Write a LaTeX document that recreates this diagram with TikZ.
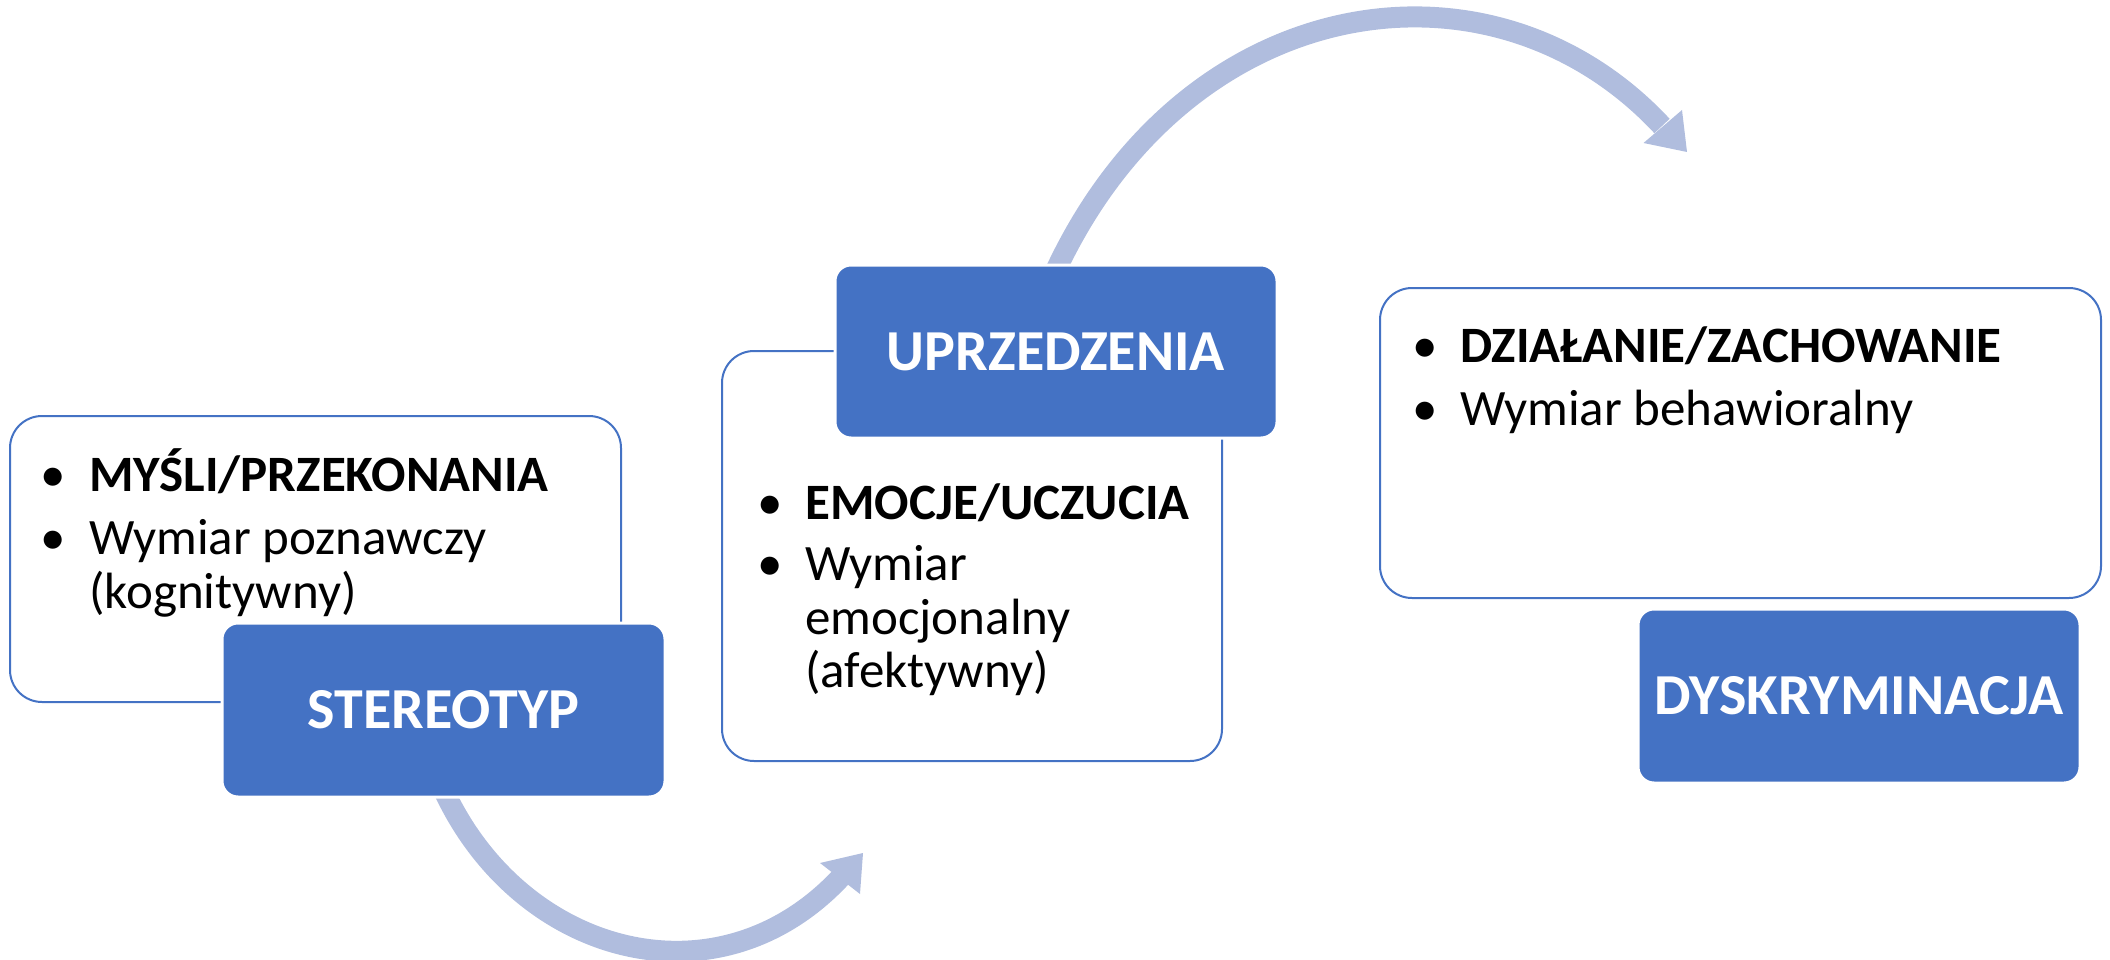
\documentclass[tikz,border=0pt]{standalone}
\usepackage{fontspec}
\setmainfont{Carlito}
\definecolor{accent}{HTML}{4472C4}
\definecolor{arrowc}{RGB}{176,189,222}
\begin{document}
\begin{tikzpicture}[x=1pt,y=-1pt,
  whitebox/.style={draw=accent, line width=2pt, fill=white, rounded corners=32pt, inner sep=0pt},
  bluebox/.style={draw=white, line width=3pt, fill=accent, rounded corners=16pt, text=white,
    font=\fontsize{58}{60}\selectfont\bfseries, inner sep=0pt},
  itemtext/.style={anchor=base west, inner sep=0pt, font=\fontsize{51}{55}\selectfont},
  bul/.style={anchor=base, inner sep=0pt, font=\fontsize{51}{55}\selectfont},
  flow/.style={draw=arrowc, line width=21pt},
  head/.style={fill=arrowc}
]
\useasboundingbox (0,0) rectangle (2110,960);

% arrows (behind boxes)
\coordinate (a1s) at (445,793);
\coordinate (a1e) at (841,877);
\coordinate (a1t) at (863,853);
\coordinate (a1l) at (820,863);
\coordinate (a1r) at (860,894);
\draw[flow] (a1s) .. controls (523,957) and (719,1008) .. (a1e);
\fill[head] (a1l) -- (a1t) -- (a1r) -- cycle;

\coordinate (a2s) at (1056,270);
\coordinate (a2e) at (1662,126);
\coordinate (a2t) at (1687,152);
\coordinate (a2l) at (1682,110);
\coordinate (a2r) at (1643.5,143);
\draw[flow] (a2s) .. controls (1188,-11) and (1492,-56.5) .. (a2e);
\fill[head] (a2l) -- (a2t) -- (a2r) -- cycle;

% box 1
\node[whitebox, minimum width=611pt, minimum height=286pt] (w1) at (315.5,559) {};
\node[bul] (b1a) at (53,491) {•};
\node[itemtext] (t1a) at (89,491) {\bfseries MYŚLI/PRZEKONANIA};
\node[bul] (b1b) at (53,554) {•};
\node[itemtext] (t1b) at (89,554) {Wymiar poznawczy};
\node[itemtext] (t1c) at (89,608) {(kognitywny)};
\node[bluebox, minimum width=443pt, minimum height=174pt] (s1) at (443.5,710) {STEREOTYP};

% box 2
\node[whitebox, minimum width=500pt, minimum height=410pt] (w2) at (972,556) {};
\node[bul] (b2a) at (770,519) {•};
\node[itemtext] (t2a) at (805,519) {\bfseries EMOCJE/UCZUCIA};
\node[bul] (b2b) at (770,580) {•};
\node[itemtext] (t2b) at (805,580) {Wymiar};
\node[itemtext] (t2c) at (805,634) {emocjonalny};
\node[itemtext] (t2d) at (805,687) {(afektywny)};
\node[bluebox, minimum width=442pt, minimum height=173pt] (s2) at (1056,351.5) {UPRZEDZENIA};

% box 3
\node[whitebox, minimum width=721pt, minimum height=310pt] (w3) at (1740.5,443) {};
\node[bul] (b3a) at (1425,362) {•};
\node[itemtext] (t3a) at (1460,362) {\bfseries DZIAŁANIE/ZACHOWANIE};
\node[bul] (b3b) at (1425,425) {•};
\node[itemtext] (t3b) at (1460,425) {Wymiar behawioralny};
\node[bluebox, minimum width=442pt, minimum height=174pt] (s3) at (1859,696) {DYSKRYMINACJA};
\end{tikzpicture}
\end{document}
